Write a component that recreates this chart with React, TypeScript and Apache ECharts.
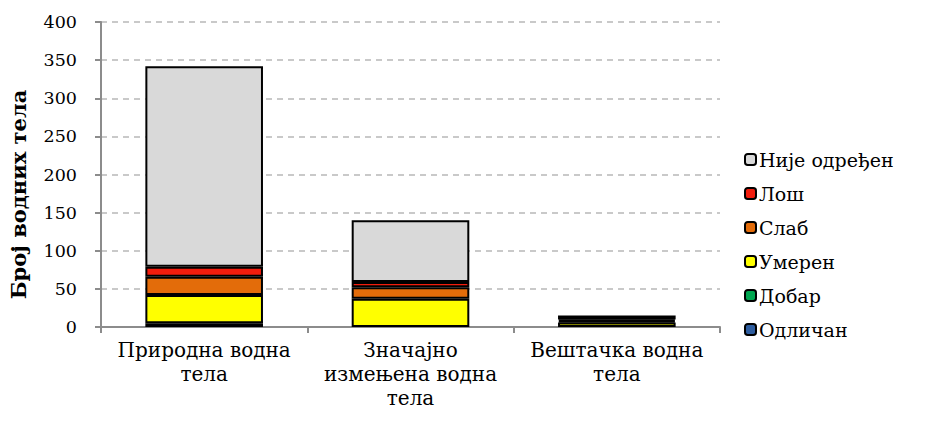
import React, { useEffect, useRef } from "react";
import * as echarts from "echarts";

const categories = ["Природна водна\nтела", "Значајно\nизмењена водна\nтела", "Вештачка водна\nтела"];
const seriesNames = ["Одличан", "Добар", "Умерен", "Слаб", "Лош", "Није одређен"];
const odlican = [null, null, null];
const dobar = [5, null, null];
const umeren = [37, 37, 6];
const slab = [24, 15, 2];
const los = [13, 7, 2];
const nijeOdredjen = [263, 81, 5];
const yTicks = [0, 50, 100, 150, 200, 250, 300, 350, 400];
const colors = ["#2e5d9f", "#00a650", "#ffff00", "#e36c0a", "#f21d0d", "#d9d9d9"];

const FONT = "DejaVu Serif";

export default function App() {
  const ref = useRef<HTMLDivElement>(null);
  useEffect(() => {
    if (!ref.current) return;
    const chart = echarts.init(ref.current, null, { renderer: "svg" });
    const values = [odlican, dobar, umeren, slab, los, nijeOdredjen];
    chart.setOption({
      animation: false,
      textStyle: { fontFamily: FONT },
      grid: { left: 98, right: 210, top: 22, bottom: 94 },
      legend: {
        orient: "vertical",
        left: 739,
        top: 145,
        itemWidth: 11,
        itemHeight: 11,
        itemGap: 15,
        data: seriesNames.slice().reverse(),
        textStyle: { fontFamily: FONT, fontSize: 19, color: "#000", padding: [0, 0, 0, -2] },
      },
      xAxis: {
        type: "category",
        data: categories,
        axisLine: { lineStyle: { color: "#8c8c8c", width: 2 } },
        axisTick: { show: true, length: 6, alignWithLabel: false, lineStyle: { color: "#8c8c8c", width: 2 } },
        axisLabel: { interval: 0, hideOverlap: false, fontFamily: FONT, fontSize: 20, color: "#000", lineHeight: 24, margin: 11 },
      },
      yAxis: {
        type: "value",
        min: yTicks[0],
        max: yTicks[yTicks.length - 1],
        interval: 50,
        name: "Број водних тела",
        nameLocation: "middle",
        nameGap: 72,
        nameTextStyle: { fontFamily: FONT, fontSize: 21, fontWeight: "bold", color: "#000", padding: [0, 40, 0, 0] },
        axisLine: { show: true, lineStyle: { color: "#8c8c8c", width: 2 } },
        axisTick: { show: true, length: 6, lineStyle: { color: "#8c8c8c", width: 2 } },
        axisLabel: { fontFamily: FONT, fontSize: 17.5, color: "#000", margin: 24 },
        splitLine: { lineStyle: { color: "#b8b8b8", type: [6, 5], width: 1.5 } },
      },
      series: seriesNames.map((name, i) => ({
        name,
        type: "bar",
        stack: "total",
        barWidth: "57%",
        data: values[i],
        itemStyle: { color: colors[i], borderColor: "#000", borderWidth: 2 },
      })),
    });
    return () => chart.dispose();
  }, []);
  return <div ref={ref} style={{ position: "absolute", left: 0, top: 0, width: 930, height: 421 }} />;
}
